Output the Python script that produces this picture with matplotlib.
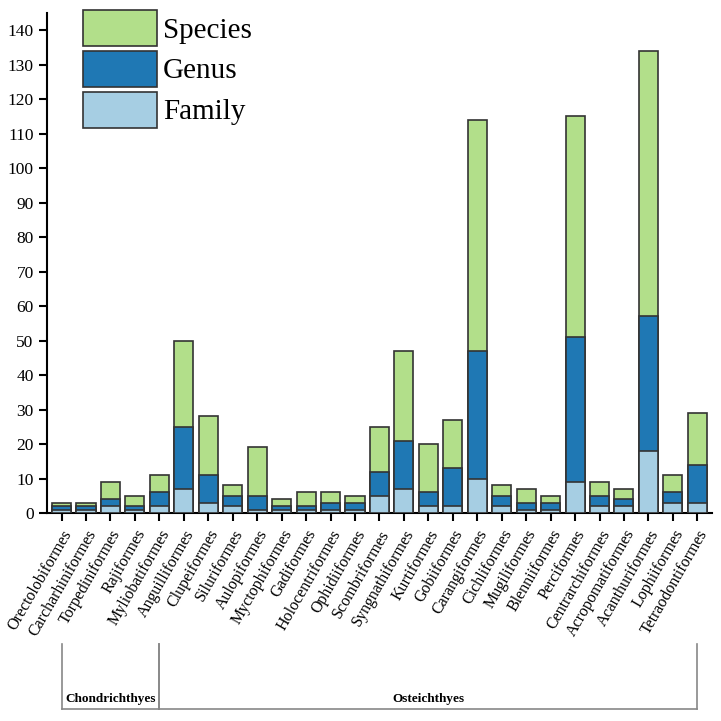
import matplotlib
matplotlib.use("Agg")
import matplotlib.pyplot as plt
import matplotlib.transforms as mtransforms
from matplotlib.lines import Line2D
from matplotlib.patches import Patch
import numpy as np

orders = ["Orectolobiformes", "Carcharhiniformes", "Torpediniformes", "Rajiformes",
          "Myliobatiformes", "Anguilliformes", "Clupeiformes", "Siluriformes",
          "Aulopiformes", "Myctophiformes", "Gadiformes", "Holocentriformes",
          "Ophidiiformes", "Scombriformes", "Syngnathiformes", "Kurtiformes",
          "Gobiiformes", "Carangiformes", "Cichliformes", "Mugiliformes",
          "Blenniiformes", "Perciformes", "Centrarchiformes", "Acropomatiformes",
          "Acanthuriformes", "Lophiiformes", "Tetraodontiformes"]
species = [3, 3, 9, 5, 11, 50, 28, 8, 19, 4, 6, 6, 5, 25, 47, 20, 27, 114, 8, 7, 5, 115, 9, 7, 134, 11, 29]
genus = [2, 2, 4, 2, 6, 25, 11, 5, 5, 2, 2, 3, 3, 12, 21, 6, 13, 47, 5, 3, 3, 51, 5, 4, 57, 6, 14]
family = [1, 1, 2, 1, 2, 7, 3, 2, 1, 1, 1, 1, 1, 5, 7, 2, 2, 10, 2, 1, 1, 9, 2, 2, 18, 3, 3]
yticks = list(range(0, 150, 10))

# class brackets: (name, first order index, last order index)
groups = [("Chondrichthyes", 0, 4), ("Osteichthyes", 4, 26)]

c_species, c_genus, c_family = "#b2df8a", "#1f78b4", "#a6cee3"
edge = "#333333"

plt.rcParams["font.family"] = ["Liberation Serif", "DejaVu Serif"]

fig = plt.figure(figsize=(7.21, 7.21), dpi=100)
ax = fig.add_axes([0.065, 0.2885, 0.9225, 0.6935])

x = np.arange(len(orders))
w = 0.78
ax.bar(x, species, width=w, color=c_species, edgecolor=edge, linewidth=1.2, zorder=2)
ax.bar(x, genus, width=w, color=c_genus, edgecolor=edge, linewidth=1.2, zorder=3)
ax.bar(x, family, width=w, color=c_family, edgecolor=edge, linewidth=1.2, zorder=4)

ax.set_xlim(-0.6, 26.6)
ax.set_ylim(0, 145)
ax.set_yticks(yticks)
ax.set_yticklabels([str(v) for v in yticks], fontsize=12.5)
ax.set_xticks(x)
ax.set_xticklabels(orders, rotation=60, ha="right", rotation_mode="anchor", fontsize=11.5)
ax.tick_params(axis="both", direction="out", length=6, width=1.5, color="black")
ax.tick_params(axis="x", pad=4)
for s in ["top", "right"]:
    ax.spines[s].set_visible(False)
for s in ["left", "bottom"]:
    ax.spines[s].set_linewidth(1.5)

handles = [Patch(facecolor=c_species, edgecolor=edge, linewidth=1.2),
           Patch(facecolor=c_genus, edgecolor=edge, linewidth=1.2),
           Patch(facecolor=c_family, edgecolor=edge, linewidth=1.2)]
ax.legend(handles, ["Species", "Genus", "Family"], loc="upper left",
          bbox_to_anchor=(0.054, 1.006), frameon=False, fontsize=21,
          handlelength=2.55, handleheight=1.53, labelspacing=0.16,
          handletextpad=0.2, borderpad=0.0, borderaxespad=0.0)

# bracket lines under the labels
trans = mtransforms.blended_transform_factory(ax.transData, fig.transFigure)
y_top, y_bot = 0.107, 0.016
for name, i0, i1 in groups:
    fig.add_artist(Line2D([i0, i0], [y_top, y_bot], transform=trans, color="#888888", lw=1.2))
    fig.add_artist(Line2D([i1, i1], [y_top, y_bot], transform=trans, color="#888888", lw=1.2))
    fig.add_artist(Line2D([i0, i1], [y_bot, y_bot], transform=trans, color="#888888", lw=1.2))
    fig.text((i0 + i1) / 2, y_bot + 0.006, name, transform=trans, ha="center", va="bottom",
             fontsize=9.5, fontweight="bold")

fig.savefig("out.png", dpi=100)
